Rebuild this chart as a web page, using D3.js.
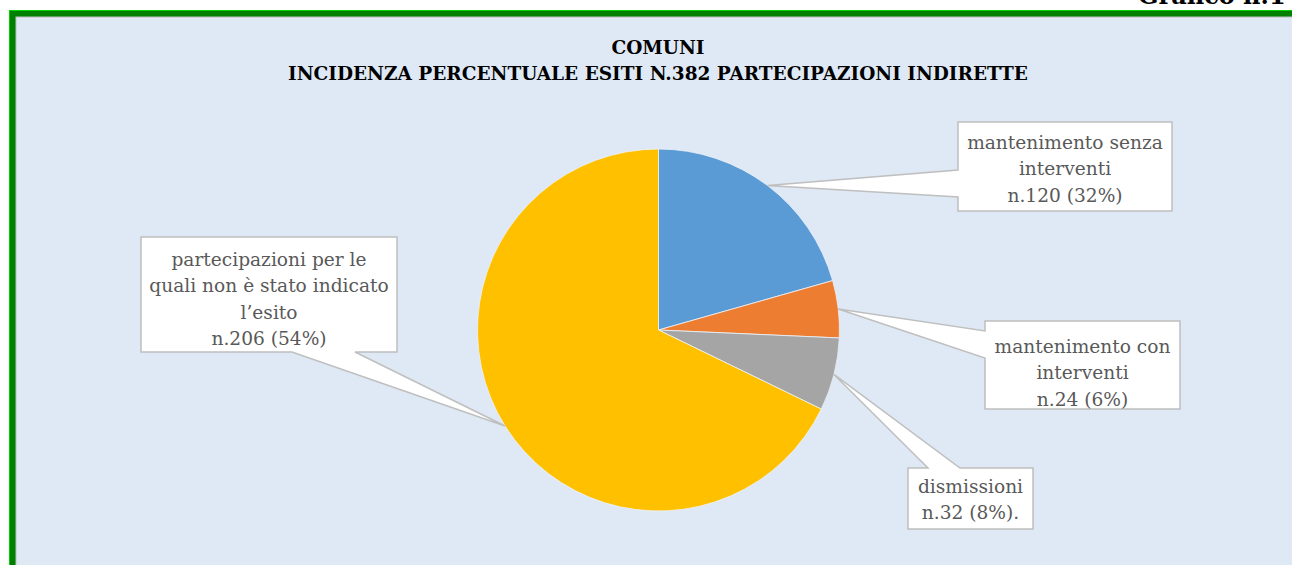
<!DOCTYPE html>
<html>
<head>
<meta charset="utf-8">
<script src="https://cdn.jsdelivr.net/npm/d3@7"></script>
<style>
  body { margin: 0; background: #fff; overflow: hidden; }
  svg { display: block; }
</style>
</head>
<body>
<svg id="chart"></svg>
<script>
// slice shares as drawn in the picture (angles of the pie), and their callout texts
const categories = ["mantenimento senza interventi", "mantenimento con interventi", "dismissioni", "partecipazioni per le quali non è stato indicato l'esito"];
const shares = [20.6, 5.1, 6.5, 67.8];
const calloutLines = [
  ["mantenimento senza", "interventi", "n.120 (32%)"],
  ["mantenimento con", "interventi", "n.24 (6%)"],
  ["dismissioni", "n.32 (8%)."],
  ["partecipazioni per le", "quali non è stato indicato", "l\u2019esito", "n.206 (54%)"]
];
const colors = ["#5B9BD5", "#ED7D31", "#A5A5A5", "#FFC000"];
const titleLines = ["COMUNI", "INCIDENZA PERCENTUALE ESITI N.382 PARTECIPAZIONI INDIRETTE"];

const W = 1292, H = 565;
const svg = d3.select("#chart").attr("width", W).attr("height", H);

// page caption, clipped by the top of the window
svg.append("text")
    .attr("x", 1138).attr("y", 4)
    .attr("font-family", "DejaVu Serif").attr("font-weight", "bold")
    .attr("font-size", 24).attr("fill", "#000")
    .text("Grafico n.1");

// green frame + chart area
svg.append("rect").attr("x", 9).attr("y", 10).attr("width", W).attr("height", H)
    .attr("fill", "#00D000");
svg.append("rect").attr("x", 10).attr("y", 11).attr("width", W).attr("height", H)
    .attr("fill", "#008000");
svg.append("rect").attr("x", 16).attr("y", 17).attr("width", W).attr("height", H)
    .attr("fill", "#DEE9F5").attr("stroke", "#BFBFBF").attr("stroke-width", 1);

// title
svg.append("text")
    .attr("x", 658).attr("y", 54)
    .attr("text-anchor", "middle")
    .attr("font-family", "DejaVu Serif").attr("font-weight", "bold")
    .attr("font-size", 18.5).attr("fill", "#000")
  .selectAll("tspan")
  .data(titleLines)
  .join("tspan")
    .attr("x", 658)
    .attr("dy", (d, i) => i === 0 ? 0 : 26)
    .text(d => d);

// pie
const cx = 658.5, cy = 330, r = 181;
const pie = d3.pie().sort(null).value(d => d);
const arcs = pie(shares);
const arc = d3.arc().innerRadius(0).outerRadius(r);

const g = svg.append("g").attr("transform", `translate(${cx},${cy})`);
g.selectAll("path.slice")
  .data(arcs)
  .join("path")
    .attr("class", "slice")
    .attr("d", arc)
    .attr("fill", (d, i) => colors[i])
    .attr("stroke", "#EEF3FA")
    .attr("stroke-width", 0.8);

// callout boxes (layout only) : box corners, side of pointer, pointer base
const boxes = [
  {x0: 958, y0: 122, x1: 1172, y1: 211, side: "left", b1: 170, b2: 197, cx: 1065, y: 149},
  {x0: 985, y0: 321, x1: 1180, y1: 409, side: "left", b1: 331, b2: 358, cx: 1082.5, y: 353},
  {x0: 908, y0: 468, x1: 1033, y1: 529, side: "top", b1: 928, b2: 960, cx: 970.5, y: 493},
  {x0: 141, y0: 237, x1: 397, y1: 352, side: "bottom", b1: 292, b2: 355, cx: 269, y: 266}
];

function calloutPath(b, tip) {
  const p = d3.path();
  p.moveTo(b.x0, b.y0);
  if (b.side === "top") { p.lineTo(b.b1, b.y0); p.lineTo(tip[0], tip[1]); p.lineTo(b.b2, b.y0); }
  p.lineTo(b.x1, b.y0);
  p.lineTo(b.x1, b.y1);
  if (b.side === "bottom") { p.lineTo(b.b2, b.y1); p.lineTo(tip[0], tip[1]); p.lineTo(b.b1, b.y1); }
  p.lineTo(b.x0, b.y1);
  if (b.side === "left") { p.lineTo(b.x0, b.b2); p.lineTo(tip[0], tip[1]); p.lineTo(b.x0, b.b1); }
  p.closePath();
  return p.toString();
}

const callouts = svg.append("g");
arcs.forEach((a, i) => {
  const mid = (a.startAngle + a.endAngle) / 2;
  const tip = [cx + r * Math.sin(mid), cy - r * Math.cos(mid)];
  const b = boxes[i];
  callouts.append("path")
      .attr("d", calloutPath(b, tip))
      .attr("fill", "#fff")
      .attr("stroke", "#BFBFBF")
      .attr("stroke-width", 1.5)
      .attr("stroke-linejoin", "miter");
  callouts.append("text")
      .attr("text-anchor", "middle")
      .attr("font-family", "DejaVu Serif")
      .attr("font-size", 18.6)
      .attr("fill", "#595959")
    .selectAll("tspan")
    .data(calloutLines[i])
    .join("tspan")
      .attr("x", b.cx)
      .attr("y", (d, j) => b.y + j * 26.3)
      .text(d => d);
});
</script>
</body>
</html>
